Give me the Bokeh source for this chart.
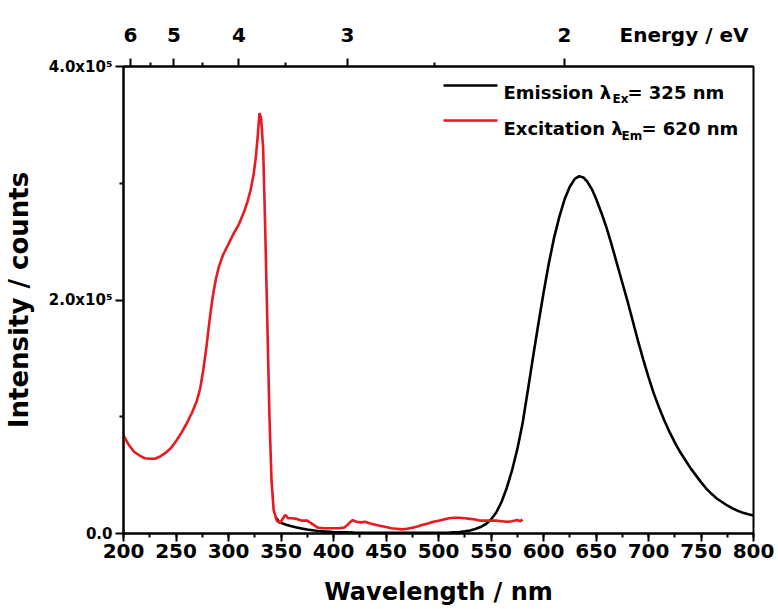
from bokeh.plotting import figure
from bokeh.models import (LinearAxis, FixedTicker, SingleIntervalTicker,
                          Label, Range1d)
from bokeh.embed import file_html
from bokeh.resources import INLINE

# ---------------- data ----------------
exc_wl = [200, 205, 210, 215, 220, 225, 230, 235, 240, 245, 250, 255, 260, 265,
          270, 273, 276, 279, 282, 285, 288, 291, 295, 300, 305, 310, 315, 318,
          321, 324, 326, 328, 329.5, 331, 333, 335, 337, 339, 341, 343, 346, 349,
          352, 354, 357, 360, 365, 370, 375, 380, 385, 390, 395, 400, 405, 410,
          414, 418, 422, 426, 430, 435, 440, 445, 450, 455, 460, 465, 470, 475,
          480, 485, 490, 495, 500, 505, 510, 515, 520, 525, 530, 535, 540, 545,
          550, 555, 560, 565, 570, 575, 578, 580]
exc_k = [84, 76, 70, 67, 64.5, 64, 64, 66, 69, 73, 79, 86, 94, 103,
         114, 124, 140, 160, 183, 203, 218, 229, 239, 248, 257, 265, 276, 284,
         294, 308, 322, 342, 360, 356, 330, 260, 180, 100, 45, 20, 11, 9,
         13, 16, 13, 13, 12.5, 11, 11, 8, 5, 4.5, 4.5, 4.5, 4.5, 5,
         8, 11.5, 10, 9.5, 10, 8.5, 7.5, 6.5, 5.5, 4.5, 4, 3.5, 4, 5,
         6, 7.5, 8.5, 10, 11, 12, 13, 13.5, 13.5, 13, 12.5, 12, 11, 11,
         11, 11, 10.5, 10, 10.5, 11.5, 10.5, 12]
exc_int = [v * 1000 for v in exc_k]

em_wl = [345, 348, 351, 355, 360, 365, 370, 375, 380, 385, 390, 400, 420, 450,
         480, 500, 510, 520, 525, 530, 535, 540, 545, 550, 555, 560, 565, 570,
         575, 580, 585, 590, 595, 600, 605, 610, 615, 620, 625, 630, 634, 638,
         642, 646, 650, 655, 660, 665, 670, 675, 680, 685, 690, 695, 700, 705,
         710, 715, 720, 725, 730, 735, 740, 745, 750, 755, 760, 765, 770, 775,
         780, 785, 790, 795, 800]
em_k = [14, 10, 8.8, 7.5, 6.3, 5.2, 4.2, 3.4, 2.8, 2.2, 1.8, 1.2, 0.8, 0.5,
        0.5, 0.6, 0.8, 1.3, 1.8, 2.6, 3.8, 5.5, 8, 12, 18, 27, 39, 54,
        72, 94, 122, 151, 179, 206, 231, 253, 271, 286, 297, 304, 306, 305,
        301, 295, 287, 275, 262, 247, 231, 215, 199, 182, 165, 149, 134, 120,
        108, 97, 87, 78, 70, 63, 56, 50, 44, 38.5, 34, 30, 27, 24,
        21.5, 19.5, 17.7, 16.4, 15.4]
em_int = [v * 1000 for v in em_k]

x_ticks = list(range(200, 801, 50))
y_ticks = [0, 200000, 400000]
y_minor = [100000, 300000]
y_tick_labels = ["0.0", "2.0x10\u2075", "4.0x10\u2075"]
energy_ticks = [6, 5, 4, 3, 2]
energy_minor = [5.5, 4.5, 3.5, 2.5]
energy_title = "Energy / eV"
HC = 1239.84  # eV*nm

legend_texts = [("Emission \u03bb", "Ex", "= 325 nm"),
                ("Excitation \u03bb", "Em", "= 620 nm")]

RED = "#e8191f"
FONT = "DejaVu Sans"

# ---------------- figure ----------------
p = figure(width=778, height=609, x_range=Range1d(200, 800),
           y_range=Range1d(0, 400000), output_backend="svg",
           toolbar_location=None, min_border_left=123, min_border_right=25,
           min_border_top=66, min_border_bottom=76)
p.background_fill_color = "white"
p.border_fill_color = "white"
p.xgrid.visible = False
p.ygrid.visible = False
p.outline_line_color = "black"
p.outline_line_width = 2

# curves (emission below, excitation on top)
p.line(em_wl, em_int, line_color="black", line_width=2.6)
p.line(exc_wl, exc_int, line_color=RED, line_width=2.6)


def style_axis(ax, lab_size, standoff):
    ax.axis_line_color = "black"
    ax.axis_line_width = 2
    ax.major_tick_line_color = "black"
    ax.major_tick_line_width = 2
    ax.minor_tick_line_color = "black"
    ax.minor_tick_line_width = 2
    ax.major_tick_out = 8
    ax.major_tick_in = 0
    ax.minor_tick_out = 4
    ax.minor_tick_in = 0
    ax.major_label_text_font = FONT
    ax.major_label_text_font_style = "bold"
    ax.major_label_text_font_size = lab_size
    ax.major_label_text_color = "black"
    ax.major_label_standoff = standoff
    ax.axis_label_text_font = FONT
    ax.axis_label_text_font_style = "bold"
    ax.axis_label_text_color = "black"


# bottom axis
xa = p.xaxis[0]
xa.ticker = SingleIntervalTicker(interval=50, num_minor_ticks=2)
xa.axis_label = "Wavelength / nm"
style_axis(xa, "20px", 2)
xa.axis_label_text_font_size = "24px"
xa.axis_label_standoff = 17

# left axis
ya = p.yaxis[0]
ya.ticker = FixedTicker(ticks=y_ticks, minor_ticks=y_minor)
ya.major_label_overrides = {t: l for t, l in zip(y_ticks, y_tick_labels)}
ya.axis_label = "Intensity / counts"
style_axis(ya, "15px", 3)
ya.axis_label_text_font_size = "26px"
ya.axis_label_standoff = 12

# top axis (energy): tick marks only
top_marks = LinearAxis(
    ticker=FixedTicker(ticks=[HC / e for e in energy_ticks],
                       minor_ticks=[HC / e for e in energy_minor]))
style_axis(top_marks, "0px", 0)
top_marks.major_label_overrides = {HC / e: "" for e in energy_ticks}
p.add_layout(top_marks, "above")

# top axis labels (energy numbers + axis title on the same row)
title_pos = 733.8  # wavelength under the centre of the "Energy / eV" text
lab_ticks = [HC / e for e in energy_ticks] + [title_pos]
top_labels = LinearAxis(ticker=FixedTicker(ticks=lab_ticks, minor_ticks=[]))
style_axis(top_labels, "20px", 12)
top_labels.axis_line_color = None
top_labels.major_tick_line_color = None
top_labels.minor_tick_line_color = None
top_labels.major_tick_out = 0
top_labels.minor_tick_out = 0
overrides = {HC / e: str(e) for e in energy_ticks}
overrides[title_pos] = energy_title
top_labels.major_label_overrides = overrides
p.add_layout(top_labels, "above")

# ---------------- manual legend (placed by pixel) ----------------
FX0, FX1, FY0, FY1 = 123, 753, 533, 66


def dx(px):
    return 200 + (px - FX0) * 600 / (FX1 - FX0)


def dy(py):
    return (FY0 - py) * 400000 / (FY0 - FY1)


rows = [(85, 92, 98, "black", 612, 627), (120, 128, 135, RED, 621, 641)]
for (ly, base, subbase, col, sx, rx), (t1, sub, t2) in zip(rows, legend_texts):
    p.line([dx(443), dx(497)], [dy(ly), dy(ly)], line_color=col, line_width=2.6)
    p.add_layout(Label(x=dx(503), y=dy(base), text=t1, text_font=FONT,
                       text_font_style="bold", text_font_size="18px",
                       text_color="black", text_baseline="alphabetic"))
    p.add_layout(Label(x=dx(sx), y=dy(subbase), text=sub, text_font=FONT,
                       text_font_style="bold", text_font_size="12px",
                       text_color="black", text_baseline="alphabetic"))
    p.add_layout(Label(x=dx(rx), y=dy(base), text=t2, text_font=FONT,
                       text_font_style="bold", text_font_size="18px",
                       text_color="black", text_baseline="alphabetic"))

open("out.html", "w").write(file_html(p, INLINE))
